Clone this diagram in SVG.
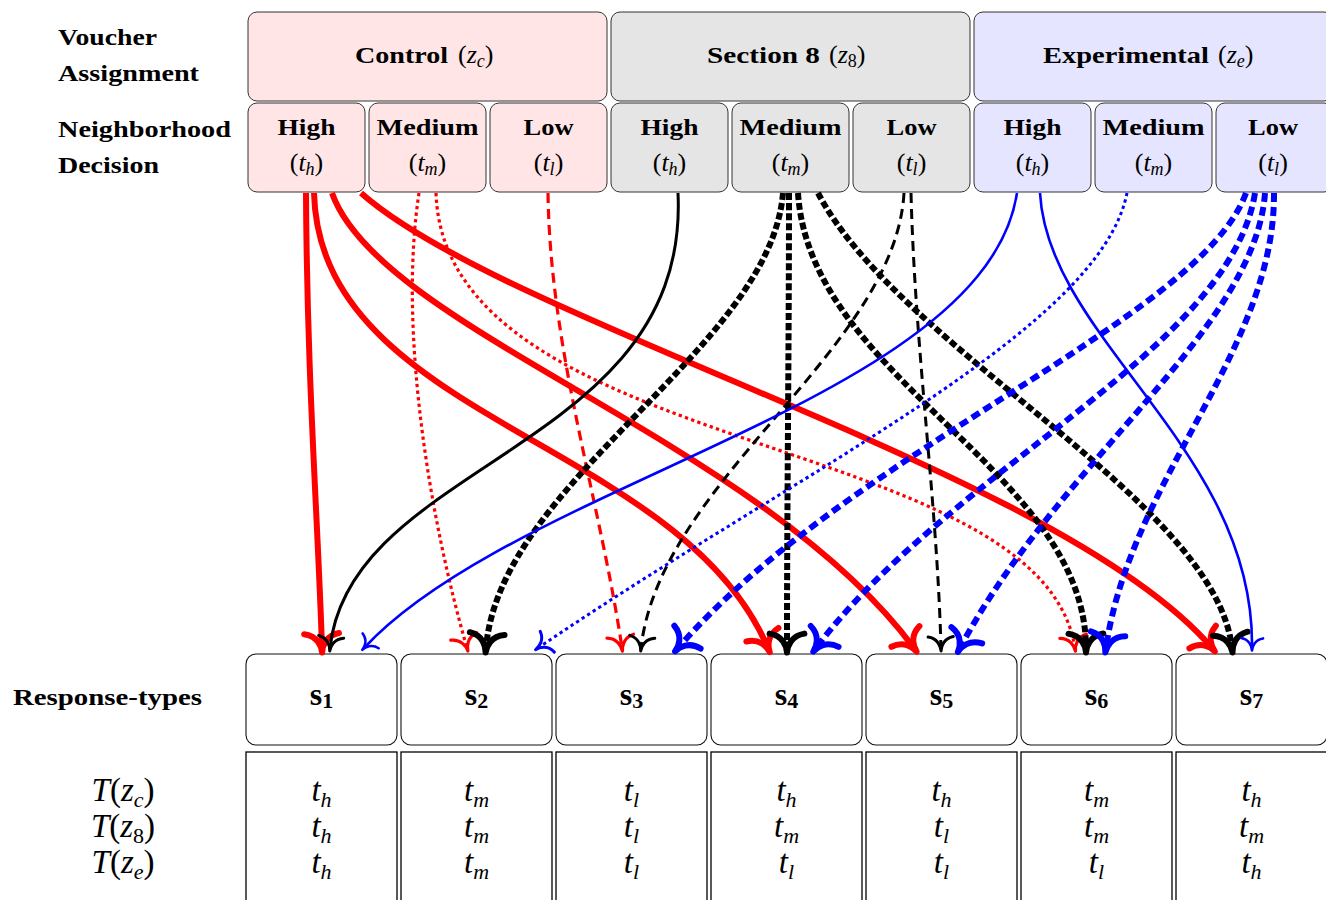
<svg xmlns="http://www.w3.org/2000/svg" width="1326" height="900" viewBox="0 0 1326 900">
<style>
.bg{fill:#fff}
.gc{fill:#ffe5e5;stroke:#333;stroke-width:1}
.gs{fill:#e5e5e5;stroke:#333;stroke-width:1}
.ge{fill:#e5e5ff;stroke:#333;stroke-width:1}
.sb{fill:#fff;stroke:#111;stroke-width:1.1}
.cell{fill:none;stroke:#000;stroke-width:1.3}
.lbl{font-family:"Liberation Serif",serif;font-weight:bold;font-size:23.5px;fill:#000}
.mth{font-family:"Liberation Serif",serif;font-size:26px;fill:#000}
.it{font-style:italic}
.sl{font-family:"Liberation Serif",serif;font-weight:bold;font-size:32px;text-anchor:middle}
.tm{font-family:"Liberation Serif",serif;font-style:italic;font-size:33px;text-anchor:middle}
.e{fill:none;stroke-linecap:butt}
.red{stroke:#ff0000}
.blk{stroke:#000000}
.blu{stroke:#0000ff}
.w6{stroke-width:6}
.w3{stroke-width:3.2}
.w25{stroke-width:2.6}
.dot{stroke-dasharray:3.3 3.3}
.dash{stroke-dasharray:10 6}
.dense{stroke-dasharray:7 3}
.tkd{stroke-dasharray:9 5}
</style>
<defs>
<marker id="rT" markerUnits="strokeWidth" orient="auto" refX="0.3" refY="0" markerWidth="8" markerHeight="8" overflow="visible">
<path d="M-2.1,2.9 C-1.75,0.7 0,0.07 1.05,0 C0,-0.07 -1.75,-0.7 -2.1,-2.9" fill="none" stroke="#ff0000" stroke-width="1" stroke-linecap="round" stroke-linejoin="round"/>
</marker>
<marker id="rt" markerUnits="strokeWidth" orient="auto" refX="0.6" refY="0" markerWidth="10" markerHeight="10" overflow="visible">
<path d="M-3.15,4.2 C-2.625,1.05 0,0.105 1.575,0 C0,-0.105 -2.625,-1.05 -3.15,-4.2" fill="none" stroke="#ff0000" stroke-width="1" stroke-linecap="round" stroke-linejoin="round"/>
</marker>
<marker id="kT" markerUnits="strokeWidth" orient="auto" refX="0.3" refY="0" markerWidth="8" markerHeight="8" overflow="visible">
<path d="M-2.1,2.9 C-1.75,0.7 0,0.07 1.05,0 C0,-0.07 -1.75,-0.7 -2.1,-2.9" fill="none" stroke="#000000" stroke-width="1" stroke-linecap="round" stroke-linejoin="round"/>
</marker>
<marker id="kt" markerUnits="strokeWidth" orient="auto" refX="0.6" refY="0" markerWidth="10" markerHeight="10" overflow="visible">
<path d="M-3.15,4.2 C-2.625,1.05 0,0.105 1.575,0 C0,-0.105 -2.625,-1.05 -3.15,-4.2" fill="none" stroke="#000000" stroke-width="1" stroke-linecap="round" stroke-linejoin="round"/>
</marker>
<marker id="bT" markerUnits="strokeWidth" orient="auto" refX="0.3" refY="0" markerWidth="8" markerHeight="8" overflow="visible">
<path d="M-2.1,2.9 C-1.75,0.7 0,0.07 1.05,0 C0,-0.07 -1.75,-0.7 -2.1,-2.9" fill="none" stroke="#0000ff" stroke-width="1" stroke-linecap="round" stroke-linejoin="round"/>
</marker>
<marker id="bt" markerUnits="strokeWidth" orient="auto" refX="0.6" refY="0" markerWidth="10" markerHeight="10" overflow="visible">
<path d="M-3.15,4.2 C-2.625,1.05 0,0.105 1.575,0 C0,-0.105 -2.625,-1.05 -3.15,-4.2" fill="none" stroke="#0000ff" stroke-width="1" stroke-linecap="round" stroke-linejoin="round"/>
</marker>
</defs>
<rect class="bg" x="0" y="0" width="1326" height="900"/>

<g id="row-labels">
<text class="lbl" x="58" y="45" textLength="99" lengthAdjust="spacingAndGlyphs">Voucher</text>
<text class="lbl" x="58" y="81" textLength="141" lengthAdjust="spacingAndGlyphs">Assignment</text>
<text class="lbl" x="58" y="137" textLength="173" lengthAdjust="spacingAndGlyphs">Neighborhood</text>
<text class="lbl" x="58" y="173" textLength="101" lengthAdjust="spacingAndGlyphs">Decision</text>
<text class="lbl" x="13" y="705" textLength="189" lengthAdjust="spacingAndGlyphs">Response-types</text>
</g>

<g id="voucher-control">
<rect class="gc" x="248" y="12" width="359" height="89" rx="9"/>
<text class="lbl" x="355" y="63" textLength="93" lengthAdjust="spacingAndGlyphs">Control</text>
<text class="mth" x="458" y="63">(<tspan class="it">z</tspan><tspan class="it" font-size="18" dy="4">c</tspan><tspan dy="-4">)</tspan></text>
</g>
<g id="voucher-section8">
<rect class="gs" x="611" y="12" width="359" height="89" rx="9"/>
<text class="lbl" x="707" y="63" textLength="113" lengthAdjust="spacingAndGlyphs">Section 8</text>
<text class="mth" x="829" y="63">(<tspan class="it">z</tspan><tspan font-size="18" dy="4">8</tspan><tspan dy="-4">)</tspan></text>
</g>
<g id="voucher-experimental">
<rect class="ge" x="974" y="12" width="359" height="89" rx="9"/>
<text class="lbl" x="1043" y="63" textLength="166" lengthAdjust="spacingAndGlyphs">Experimental</text>
<text class="mth" x="1218" y="63">(<tspan class="it">z</tspan><tspan class="it" font-size="18" dy="4">e</tspan><tspan dy="-4">)</tspan></text>
</g>

<g id="c-high"><rect class="gc" x="248" y="103" width="117" height="89" rx="9"/>
<text class="lbl" x="306.5" y="135" text-anchor="middle" textLength="58" lengthAdjust="spacingAndGlyphs">High</text>
<text class="mth" x="306.5" y="171" text-anchor="middle">(<tspan class="it">t</tspan><tspan class="it" font-size="18" dy="4">h</tspan><tspan dy="-4">)</tspan></text></g>
<g id="c-medium"><rect class="gc" x="369" y="103" width="117" height="89" rx="9"/>
<text class="lbl" x="427.5" y="135" text-anchor="middle" textLength="102" lengthAdjust="spacingAndGlyphs">Medium</text>
<text class="mth" x="427.5" y="171" text-anchor="middle">(<tspan class="it">t</tspan><tspan class="it" font-size="18" dy="4">m</tspan><tspan dy="-4">)</tspan></text></g>
<g id="c-low"><rect class="gc" x="490" y="103" width="117" height="89" rx="9"/>
<text class="lbl" x="548.5" y="135" text-anchor="middle" textLength="50" lengthAdjust="spacingAndGlyphs">Low</text>
<text class="mth" x="548.5" y="171" text-anchor="middle">(<tspan class="it">t</tspan><tspan class="it" font-size="18" dy="4">l</tspan><tspan dy="-4">)</tspan></text></g>

<g id="s-high"><rect class="gs" x="611" y="103" width="117" height="89" rx="9"/>
<text class="lbl" x="669.5" y="135" text-anchor="middle" textLength="58" lengthAdjust="spacingAndGlyphs">High</text>
<text class="mth" x="669.5" y="171" text-anchor="middle">(<tspan class="it">t</tspan><tspan class="it" font-size="18" dy="4">h</tspan><tspan dy="-4">)</tspan></text></g>
<g id="s-medium"><rect class="gs" x="732" y="103" width="117" height="89" rx="9"/>
<text class="lbl" x="790.5" y="135" text-anchor="middle" textLength="102" lengthAdjust="spacingAndGlyphs">Medium</text>
<text class="mth" x="790.5" y="171" text-anchor="middle">(<tspan class="it">t</tspan><tspan class="it" font-size="18" dy="4">m</tspan><tspan dy="-4">)</tspan></text></g>
<g id="s-low"><rect class="gs" x="853" y="103" width="117" height="89" rx="9"/>
<text class="lbl" x="911.5" y="135" text-anchor="middle" textLength="50" lengthAdjust="spacingAndGlyphs">Low</text>
<text class="mth" x="911.5" y="171" text-anchor="middle">(<tspan class="it">t</tspan><tspan class="it" font-size="18" dy="4">l</tspan><tspan dy="-4">)</tspan></text></g>

<g id="e-high"><rect class="ge" x="974" y="103" width="117" height="89" rx="9"/>
<text class="lbl" x="1032.5" y="135" text-anchor="middle" textLength="58" lengthAdjust="spacingAndGlyphs">High</text>
<text class="mth" x="1032.5" y="171" text-anchor="middle">(<tspan class="it">t</tspan><tspan class="it" font-size="18" dy="4">h</tspan><tspan dy="-4">)</tspan></text></g>
<g id="e-medium"><rect class="ge" x="1095" y="103" width="117" height="89" rx="9"/>
<text class="lbl" x="1153.5" y="135" text-anchor="middle" textLength="102" lengthAdjust="spacingAndGlyphs">Medium</text>
<text class="mth" x="1153.5" y="171" text-anchor="middle">(<tspan class="it">t</tspan><tspan class="it" font-size="18" dy="4">m</tspan><tspan dy="-4">)</tspan></text></g>
<g id="e-low"><rect class="ge" x="1216" y="103" width="117" height="89" rx="9"/>
<text class="lbl" x="1273" y="135" text-anchor="middle" textLength="50" lengthAdjust="spacingAndGlyphs">Low</text>
<text class="mth" x="1273" y="171" text-anchor="middle">(<tspan class="it">t</tspan><tspan class="it" font-size="18" dy="4">l</tspan><tspan dy="-4">)</tspan></text></g>

<g id="s1"><rect class="sb" x="246" y="654" width="151" height="91" rx="10"/><text class="sl" x="321.5" y="705">s<tspan font-size="22" dy="3">1</tspan></text></g>
<g id="s2"><rect class="sb" x="401" y="654" width="151" height="91" rx="10"/><text class="sl" x="476.5" y="705">s<tspan font-size="22" dy="3">2</tspan></text></g>
<g id="s3"><rect class="sb" x="556" y="654" width="151" height="91" rx="10"/><text class="sl" x="631.5" y="705">s<tspan font-size="22" dy="3">3</tspan></text></g>
<g id="s4"><rect class="sb" x="711" y="654" width="151" height="91" rx="10"/><text class="sl" x="786.5" y="705">s<tspan font-size="22" dy="3">4</tspan></text></g>
<g id="s5"><rect class="sb" x="866" y="654" width="151" height="91" rx="10"/><text class="sl" x="941.5" y="705">s<tspan font-size="22" dy="3">5</tspan></text></g>
<g id="s6"><rect class="sb" x="1021" y="654" width="151" height="91" rx="10"/><text class="sl" x="1096.5" y="705">s<tspan font-size="22" dy="3">6</tspan></text></g>
<g id="s7"><rect class="sb" x="1176" y="654" width="151" height="91" rx="10"/><text class="sl" x="1251.5" y="705">s<tspan font-size="22" dy="3">7</tspan></text></g>

<g id="table">
<rect class="cell" x="246" y="752" width="151" height="170"/>
<rect class="cell" x="401" y="752" width="151" height="170"/>
<rect class="cell" x="556" y="752" width="151" height="170"/>
<rect class="cell" x="711" y="752" width="151" height="170"/>
<rect class="cell" x="866" y="752" width="151" height="170"/>
<rect class="cell" x="1021" y="752" width="151" height="170"/>
<rect class="cell" x="1176" y="752" width="151" height="170"/>
<g class="tm">
<text x="123" y="801">T<tspan font-style="normal">(</tspan>z<tspan font-size="22" dy="6">c</tspan><tspan font-style="normal" dy="-6">)</tspan></text>
<text x="123" y="837">T<tspan font-style="normal">(</tspan>z<tspan font-style="normal" font-size="22" dy="6">8</tspan><tspan font-style="normal" dy="-6">)</tspan></text>
<text x="123" y="873">T<tspan font-style="normal">(</tspan>z<tspan font-size="22" dy="6">e</tspan><tspan font-style="normal" dy="-6">)</tspan></text>

<text x="321.5" y="801">t<tspan font-size="22" dy="6">h</tspan></text>
<text x="321.5" y="837">t<tspan font-size="22" dy="6">h</tspan></text>
<text x="321.5" y="873">t<tspan font-size="22" dy="6">h</tspan></text>
<text x="476.5" y="801">t<tspan font-size="22" dy="6">m</tspan></text>
<text x="476.5" y="837">t<tspan font-size="22" dy="6">m</tspan></text>
<text x="476.5" y="873">t<tspan font-size="22" dy="6">m</tspan></text>
<text x="631.5" y="801">t<tspan font-size="22" dy="6">l</tspan></text>
<text x="631.5" y="837">t<tspan font-size="22" dy="6">l</tspan></text>
<text x="631.5" y="873">t<tspan font-size="22" dy="6">l</tspan></text>
<text x="786.5" y="801">t<tspan font-size="22" dy="6">h</tspan></text>
<text x="786.5" y="837">t<tspan font-size="22" dy="6">m</tspan></text>
<text x="786.5" y="873">t<tspan font-size="22" dy="6">l</tspan></text>
<text x="941.5" y="801">t<tspan font-size="22" dy="6">h</tspan></text>
<text x="941.5" y="837">t<tspan font-size="22" dy="6">l</tspan></text>
<text x="941.5" y="873">t<tspan font-size="22" dy="6">l</tspan></text>
<text x="1096.5" y="801">t<tspan font-size="22" dy="6">m</tspan></text>
<text x="1096.5" y="837">t<tspan font-size="22" dy="6">m</tspan></text>
<text x="1096.5" y="873">t<tspan font-size="22" dy="6">l</tspan></text>
<text x="1251.5" y="801">t<tspan font-size="22" dy="6">h</tspan></text>
<text x="1251.5" y="837">t<tspan font-size="22" dy="6">m</tspan></text>
<text x="1251.5" y="873">t<tspan font-size="22" dy="6">h</tspan></text>
</g>
</g>

<g id="connectors">
<!-- Control (red) -->
<path class="e red w6" marker-end="url(#rT)" d="M306,193 C307,380 318,520 322,648"/>
<path class="e red w6" marker-end="url(#rT)" d="M314,193 C320,420 680,440 768,648"/>
<path class="e red w6" marker-end="url(#rT)" d="M332,193 C380,330 760,440 914,648"/>
<path class="e red w6" marker-end="url(#rT)" d="M361,193 C510,325 1060,470 1212,648"/>
<path class="e red w3 dot" marker-end="url(#rt)" d="M419,193 C398,330 430,520 467,648"/>
<path class="e red w3 dot" marker-end="url(#rt)" d="M436,193 C445,460 1040,430 1075,648"/>
<path class="e red w3 dash" marker-end="url(#rt)" d="M548,193 C550,350 600,500 622,648"/>
<!-- Section 8 (black) -->
<path class="e blk" stroke-width="3" marker-end="url(#kt)" d="M678,193 C690,450 350,460 330,648"/>
<path class="e blk w6 dense" marker-end="url(#kT)" d="M783,193 C770,350 500,480 486,648"/>
<path class="e blk w6 dense" marker-end="url(#kT)" d="M789,193 C789,350 787,500 787,648"/>
<path class="e blk w6 dense" marker-end="url(#kT)" d="M798,193 C810,380 1085,470 1086,648"/>
<path class="e blk w6 dense" marker-end="url(#kT)" d="M818,193 C900,350 1215,500 1232,648"/>
<path class="e blk dash" stroke-width="3" marker-end="url(#kt)" d="M904,193 C895,350 660,480 641,648"/>
<path class="e blk dash" stroke-width="3" marker-end="url(#kt)" d="M911,193 C915,350 937,500 941,648"/>
<!-- Experimental (blue) -->
<path class="e blu w25" marker-end="url(#bt)" d="M1017,193 C985,400 520,480 364,648"/>
<path class="e blu w25" marker-end="url(#bt)" d="M1040,193 C1048,340 1255,450 1252,648"/>
<path class="e blu dot" stroke-width="3" marker-end="url(#bt)" d="M1127,193 C1100,330 800,470 538,648"/>
<path class="e blu w6 tkd" marker-end="url(#bT)" d="M1246,193 C1200,320 850,450 678,648"/>
<path class="e blu w6 tkd" marker-end="url(#bT)" d="M1255,193 C1230,350 950,470 816,648"/>
<path class="e blu w6 tkd" marker-end="url(#bT)" d="M1265,193 C1255,330 1060,460 960,648"/>
<path class="e blu w6 tkd" marker-end="url(#bT)" d="M1274,193 C1275,350 1130,480 1106,648"/>
</g>
</svg>
